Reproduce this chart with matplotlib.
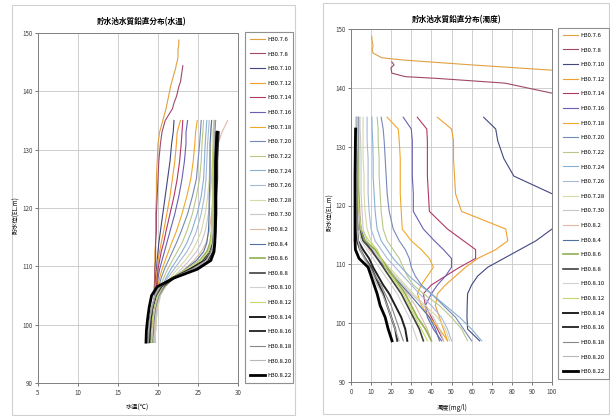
import numpy as np
import matplotlib
matplotlib.use("Agg")
import matplotlib.pyplot as plt
from matplotlib.patches import Rectangle

plt.rcParams['font.family'] = ['Noto Sans CJK JP', 'DejaVu Sans']

nan = np.nan

dates = ['H30.7.6', 'H30.7.8', 'H30.7.10', 'H30.7.12', 'H30.7.14', 'H30.7.16',
         'H30.7.18', 'H30.7.20', 'H30.7.22', 'H30.7.24', 'H30.7.26', 'H30.7.28',
         'H30.7.30', 'H30.8.2', 'H30.8.4', 'H30.8.6', 'H30.8.8', 'H30.8.10',
         'H30.8.12', 'H30.8.14', 'H30.8.16', 'H30.8.18', 'H30.8.20', 'H30.8.22']

# common elevation grid (EL.m)
elev = [97, 99, 101, 103, 105, 106.5, 108, 109.5, 111, 112.5, 114, 116,
        119, 122, 125, 128, 131, 133, 135]

# upper part of the two early profiles (higher water level)
elev_top_0706 = [137, 139, 141, 142, 143, 143.9, 144.7, 145.1, 145.9, 146.5, 147.1, 148, 148.8]
elev_top_0708 = [137, 138, 139.1, 139.6, 140.8, 141.6, 141.9, 142.5, 143.4, 143.9, 144.4]

temp_top_0706 = [21.0, 21.3, 21.6, 21.8, 22.0, 22.2, 22.3, 22.4, 22.5, 22.5, 22.5, 22.6, 22.6]
temp_top_0708 = [21.8, 22.0, 22.3, 22.4, 22.6, 22.8, 22.85, 22.9, 23.0, 23.05, 23.1]
turb_top_0706 = [150, 150, 150, 140, 100, 60, 27, 15.4, 11, 10.5, 11, 10.5, 10.3]
turb_top_0708 = [150, 140, 100, 93, 76.6, 43, 27, 20.3, 19.9, 21.4, 20.3]

# water temperature (deg C) on elev grid
temp = [
    [19.4, 19.4, 19.5, 19.5, 19.5, 19.5, 19.6, 19.6, 19.6, 19.6, 19.7, 19.7, 19.7, 19.8, 19.8, 19.9, 20.0, 20.2, 20.6],
    [19.5, 19.5, 19.5, 19.5, 19.6, 19.6, 19.6, 19.6, 19.7, 19.7, 19.7, 19.8, 19.8, 19.9, 20.0, 20.1, 20.3, 20.5, 20.9],
    [19.5, 19.5, 19.5, 19.6, 19.6, 19.7, 19.7, 19.8, 19.9, 20.0, 20.1, 20.3, 20.6, 20.9, 21.2, 21.5, 21.7, 21.9, 22.0],
    [19.6, 19.6, 19.6, 19.6, 19.7, 19.7, 19.8, 19.9, 20.0, 20.2, 20.4, 20.7, 21.1, 21.5, 21.8, 22.1, 22.3, 22.4, 22.8],
    [19.5, 19.5, 19.6, 19.6, 19.7, 19.8, 19.9, 20.0, 20.2, 20.4, 20.7, 21.0, 21.5, 22.0, 22.4, 22.7, 22.9, 23.0, 23.1],
    [19.6, 19.6, 19.6, 19.7, 19.8, 19.9, 20.0, 20.2, 20.5, 20.8, 21.1, 21.5, 22.1, 22.6, 23.0, 23.3, 23.5, 23.5, 23.7],
    [19.6, 19.6, 19.7, 19.7, 19.8, 20.0, 20.2, 20.5, 20.9, 21.3, 21.7, 22.3, 23.0, 23.6, 24.1, 24.4, 24.6, 24.7, 24.9],
    [19.6, 19.6, 19.7, 19.8, 19.9, 20.1, 20.4, 20.8, 21.3, 21.8, 22.3, 22.9, 23.7, 24.3, 24.8, 25.0, 25.2, 25.3, 25.4],
    [19.6, 19.6, 19.7, 19.8, 20.0, 20.3, 20.7, 21.2, 21.8, 22.4, 23.0, 23.6, 24.3, 24.8, 25.2, 25.4, 25.5, 25.6, 25.7],
    [19.6, 19.7, 19.7, 19.9, 20.1, 20.5, 21.0, 21.6, 22.3, 23.0, 23.6, 24.2, 24.9, 25.4, 25.7, 25.8, 25.9, 26.0, 26.1],
    [19.6, 19.7, 19.8, 19.9, 20.2, 20.6, 21.2, 22.0, 22.8, 23.6, 24.2, 24.8, 25.4, 25.8, 26.0, 26.1, 26.2, 26.3, 26.4],
    [19.6, 19.7, 19.8, 20.0, 20.3, 20.8, 21.5, 22.4, 23.4, 24.2, 24.8, 25.4, 25.9, 26.2, 26.4, 26.5, 26.6, 26.6, 26.7],
    [19.5, 19.6, 19.7, 19.9, 20.3, 20.9, 21.8, 22.9, 23.9, 24.8, 25.4, 25.9, 26.3, 26.5, 26.7, 26.8, 26.9, 26.9, 27.0],
    [19.4, 19.5, 19.6, 19.8, 20.2, 20.9, 22.0, 23.3, 24.5, 25.4, 26.0, 26.4, 26.7, 26.9, 27.0, 27.2, 27.5, 28.0, 28.7],
    [19.3, 19.4, 19.5, 19.7, 20.1, 20.8, 21.9, 23.4, 24.8, 25.7, 26.1, 26.3, 26.4, 26.4, 26.5, 26.5, 26.5, 26.6, 26.7],
    [19.2, 19.3, 19.4, 19.6, 20.0, 20.7, 22.0, 23.7, 25.2, 26.1, 26.5, 26.7, 26.8, 26.9, 26.9, 27.0, 27.0, 27.1, nan],
    [19.1, 19.2, 19.3, 19.5, 19.9, 20.6, 22.0, 24.0, 25.6, 26.4, 26.8, 27.0, 27.1, 27.1, 27.2, 27.2, 27.3, 27.4, nan],
    [19.2, 19.3, 19.4, 19.6, 20.0, 20.6, 21.8, 23.6, 25.3, 26.3, 26.7, 26.9, 27.0, 27.0, 27.0, 27.0, 27.1, 27.1, 27.2],
    [19.1, 19.2, 19.3, 19.5, 19.9, 20.5, 21.6, 23.5, 25.4, 26.3, 26.6, 26.7, 26.8, 26.8, 26.8, 26.8, 26.9, 26.9, 27.0],
    [18.9, 19.0, 19.1, 19.3, 19.7, 20.4, 21.8, 24.0, 25.9, 26.7, 26.9, 27.0, 27.1, 27.1, 27.1, 27.2, 27.2, 27.3, nan],
    [18.8, 18.9, 19.0, 19.3, 19.7, 20.3, 22.0, 24.5, 26.2, 26.9, 27.1, 27.2, 27.3, 27.3, 27.4, 27.4, 27.5, 27.6, nan],
    [18.8, 18.9, 19.0, 19.3, 19.7, 20.3, 21.8, 24.2, 26.0, 26.7, 26.9, 27.0, 27.0, 27.0, 27.0, 27.0, 27.1, 27.1, 27.2],
    [18.7, 18.8, 19.0, 19.2, 19.6, 20.2, 21.9, 24.4, 26.1, 26.7, 26.9, 26.9, 26.9, 26.9, 26.9, 27.0, 27.0, 27.0, 27.1],
    [18.5, 18.55, 18.7, 18.9, 19.2, 19.9, 22.0, 24.9, 26.6, 27.0, 27.1, 27.15, 27.2, 27.2, 27.2, 27.2, 27.3, 27.4, nan],
]

# turbidity (mg/l) on elev grid
turb = [
    [150] * 19,
    [150] * 19,
    [64, 58, 57.7, 57.8, 58, 60, 63, 68, 76, 84, 92, 100, 118, 100, 81, 76, 73, 72, 66],
    [48, 46, 44, 42, 43, 47, 52, 57, 63, 72, 78, 77, 55, 52, 51.5, 51, 51, 50, 43],
    [46, 43, 40, 37, 36, 40, 47, 54, 62, 62, 56, 48, 39, 38.5, 38, 38, 38, 37.7, 33],
    [45, 41, 38, 37, 40, 43, 47, 50, 50, 46, 41.5, 36, 31, 31, 30.5, 30.5, 30.5, 30, 26],
    [48, 44, 39, 35, 33, 35, 38, 41, 39, 35, 30, 25.5, 25, 24.5, 24.5, 24.5, 24, 23.5, 18],
    [60, 56, 52, 46, 40, 35, 32, 30, 29, 27, 24, 21, 19, 18, 17.5, 17, 16.5, 16, 15],
    [58, 55, 50, 44, 36, 31, 28, 26, 24, 21, 18, 16, 15, 14.5, 14, 14, 13.5, 13.5, 13],
    [65, 60, 54, 47, 40, 34, 29, 25, 21, 18, 15, 13, 12, 11.5, 11, 11, 10.8, 10.5, 10.4],
    [50, 48, 45, 40, 34, 30, 26, 22, 18, 15, 12, 10, 9, 8.5, 8.5, 8.5, 8, 8, 8],
    [49, 47, 43, 37, 31, 27, 23, 19, 15, 12, 10, 8, 7, 6.5, 6.5, 6, 6, 6, 6],
    [46, 44, 41, 36, 30, 26, 22, 18, 14, 11, 8, 6, 5.5, 5, 5, 5, 4.8, 4.5, 4.5],
    [40, 38, 35, 32, 28, 25, 21, 17, 13, 9, 7, 5, 4.5, 4, 4, 4, 4, 4, 4],
    [44, 42, 39, 34, 29, 25, 21, 17, 13, 10, 7, 5, 4, 3.8, 3.5, 3.5, 3.5, 3.5, 3.5],
    [40, 37, 33, 30, 27, 24, 21, 18, 15, 12, 7, 4, 3.5, 3.3, 3.3, 3.2, 3.2, 3.0, nan],
    [36, 34, 31, 28, 25, 22, 19, 16, 13, 10, 6, 4, 3.2, 3, 3, 3, 3, 2.8, nan],
    [33, 31, 29, 26, 23, 20, 17, 14, 11, 8, 5, 4, 3.5, 3.2, 3, 3, 3, 3, 3],
    [38, 35, 32, 29, 26, 23, 20, 17, 15, 13, 9, 5, 4, 3.5, 3.5, 3.3, 3.2, 3.1, 3],
    [28, 27, 25, 22, 19, 16, 13.5, 11, 9, 6, 3.5, 3, 2.8, 2.7, 2.6, 2.6, 2.5, 2.5, nan],
    [23, 22, 20, 18, 16, 14, 12, 10, 7, 4.5, 3, 2.6, 2.5, 2.4, 2.4, 2.3, 2.3, 2.3, nan],
    [26, 24, 22, 20, 17, 15, 12, 9.5, 7, 5, 3.5, 3, 2.8, 2.8, 2.7, 2.7, 2.6, 2.6, 2.6],
    [24, 22, 20, 18, 15.5, 13, 11, 9, 6.5, 4.5, 3.5, 3, 2.9, 2.8, 2.8, 2.7, 2.7, 2.7, 2.7],
    [20.4, 18.5, 17, 14.5, 13, 11.5, 10, 8.5, 4, 2.2, 2, 2, 2, 2, 2, 2.1, 2.2, 2.3, nan],
]

colors = ['#E0A040', '#A04868', '#404880', '#F0A030', '#B03868', '#6860B0',
          '#F0A828', '#7888B8', '#B8C888', '#88B0D0', '#A8B8D8', '#D8D8A8',
          '#C8C8C8', '#E0B8A8', '#5070A0', '#90B050', '#404040', '#D0D0D0',
          '#C8D868', '#202020', '#303030', '#888888', '#B8B8B8', '#000000']
widths = [0.8] * 15 + [1.2, 1.2, 0.8, 0.8, 1.4, 1.4, 0.8, 0.8, 2.0]

fig = plt.figure(figsize=(6.1, 4.16), dpi=100)

# chart frames
fig.patches.append(Rectangle((12 / 610, 1 - 415 / 416), 283 / 610, 410 / 416,
                             transform=fig.transFigure, fill=False, ec='#D0D0D0', lw=0.8))
fig.patches.append(Rectangle((323 / 610, 1 - 414 / 416), 286 / 610, 411 / 416,
                             transform=fig.transFigure, fill=False, ec='#D0D0D0', lw=0.8))

ax1 = fig.add_axes([38 / 610, 1 - 383 / 416, 200 / 610, 350 / 416])
ax2 = fig.add_axes([351 / 610, 1 - 382 / 416, 201 / 610, 353 / 416])


def profile(i, vals, tops):
    e = list(elev)
    v = list(vals)
    if i == 0:
        e += elev_top_0706
        v += tops[0]
    elif i == 1:
        e += elev_top_0708
        v += tops[1]
    return v, e


for i, d in enumerate(dates):
    x, y = profile(i, temp[i], (temp_top_0706, temp_top_0708))
    ax1.plot(x, y, color=colors[i], lw=widths[i], label=d)
    x, y = profile(i, turb[i], (turb_top_0706, turb_top_0708))
    ax2.plot(x, y, color=colors[i], lw=widths[i], label=d)

for ax in (ax1, ax2):
    ax.set_ylim(90, 150)
    ax.set_yticks(range(90, 151, 10))
    ax.grid(True, color='#C8C8C8', lw=0.6)
    ax.tick_params(labelsize=4.5, length=2, width=0.5, colors='#404040', pad=2)
    for s in ax.spines.values():
        s.set_color('#808080')
        s.set_linewidth(0.7)
    ax.set_axisbelow(True)

ax1.set_xlim(5, 30)
ax1.set_xticks(range(5, 31, 5))
ax2.set_xlim(0, 100)
ax2.set_xticks(range(0, 101, 10))

fig.text(142 / 610, 1 - 22 / 416, '貯水池水質鉛直分布(水温)', ha='center', va='center',
         fontsize=5.5, fontweight='bold')
fig.text(457 / 610, 1 - 20 / 416, '貯水池水質鉛直分布(濁度)', ha='center', va='center',
         fontsize=5.5, fontweight='bold')
fig.text(137 / 610, 1 - 408 / 416, '水温(℃)', ha='center', va='center', fontsize=4.5)
fig.text(452 / 610, 1 - 408 / 416, '濁度(mg/l)', ha='center', va='center', fontsize=4.5)
fig.text(16 / 610, 1 - 215 / 416, '貯水位(EL.m)', ha='center', va='center', fontsize=4.5,
         rotation=90)
fig.text(330 / 610, 1 - 212 / 416, '貯水位(EL.m)', ha='center', va='center', fontsize=4.5,
         rotation=90)

for ax, box in ((ax1, (245, 32, 48, 351)), (ax2, (558, 28, 51, 356))):
    h, l = ax.get_legend_handles_labels()
    leg = fig.legend(h, l, loc='upper left',
                     bbox_to_anchor=(box[0] / 610, 1 - (box[1] + box[3]) / 416,
                                     box[2] / 610, box[3] / 416),
                     mode='expand', fontsize=4.3, labelspacing=1.58, handlelength=2.6,
                     handletextpad=0.4, borderaxespad=0, borderpad=0.8,
                     fancybox=False, edgecolor='#909090', framealpha=1)
    leg.get_frame().set_linewidth(0.8)

fig.savefig('out.png', dpi=100)
